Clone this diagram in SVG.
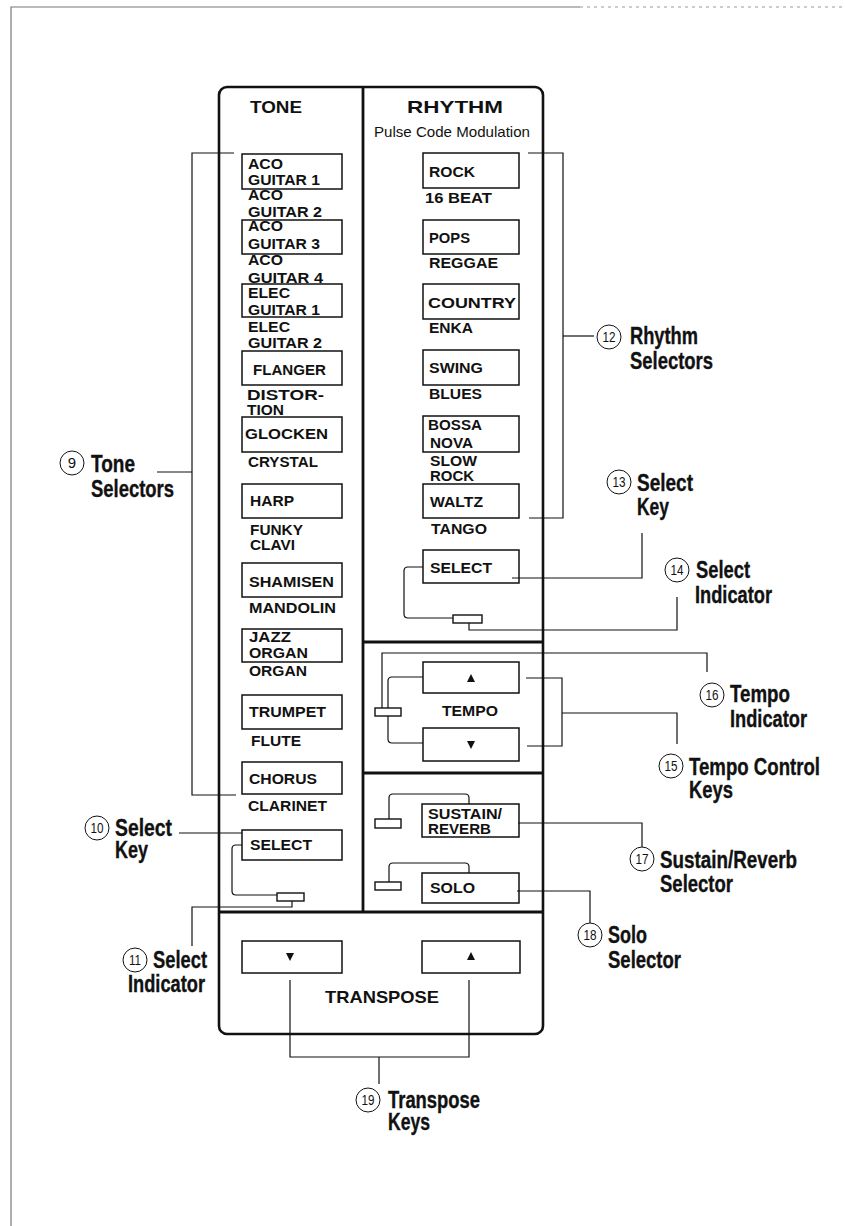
<svg xmlns="http://www.w3.org/2000/svg" width="845" height="1226" viewBox="0 0 845 1226">
<defs>
<style>
.bg{fill:#ffffff}
.page{stroke:#777;stroke-width:1.2;fill:none}
.pagedot{stroke:#999;stroke-width:1;fill:none;stroke-dasharray:3 4}
.panel{fill:none;stroke:#111;stroke-width:2.6}
.div{stroke:#111;stroke-width:2.8;fill:none}
.btn{fill:#fff;stroke:#111;stroke-width:1.5}
.ind{fill:#fff;stroke:#111;stroke-width:1.4}
.conn{fill:none;stroke:#111;stroke-width:1.2}
.t{font-family:"Liberation Sans",Arial,sans-serif;font-weight:bold;font-size:14.5px;fill:#111}
.hd{font-family:"Liberation Sans",Arial,sans-serif;font-weight:bold;font-size:17px;fill:#111}
.sub{font-family:"Liberation Sans",Arial,sans-serif;font-size:15px;fill:#111}
.lbl{font-family:"Liberation Sans",Arial,sans-serif;font-weight:bold;font-size:23px;fill:#111;stroke:#111;stroke-width:0.35}
.num{font-family:"Liberation Sans",Arial,sans-serif;font-size:15px;fill:#111;text-anchor:middle}
.circ{fill:#fff;stroke:#111;stroke-width:1}
.tri{fill:#111}
</style>
</defs>
<rect class="bg" x="0" y="0" width="845" height="1226"/>
<g id="page-border">
<path class="page" d="M11,1226 V7 H580"/>
<path class="pagedot" d="M580,7 H845"/>
</g>

<g id="panel">
<rect class="panel" x="219" y="87" width="324" height="947" rx="8" ry="8"/>
<path class="div" d="M363,87 V912"/>
<path class="div" d="M219,912 H543"/>
<path class="div" d="M363,642 H543"/>
<path class="div" d="M363,773 H543"/>
<text class="hd" x="250" y="113" textLength="52" lengthAdjust="spacingAndGlyphs">TONE</text>
<text class="hd" x="407" y="113" textLength="96" lengthAdjust="spacingAndGlyphs">RHYTHM</text>
<text class="sub" x="374" y="137" textLength="156" lengthAdjust="spacingAndGlyphs">Pulse Code Modulation</text>
<text class="t" x="442" y="716" textLength="56" lengthAdjust="spacingAndGlyphs">TEMPO</text>
<text class="hd" x="325" y="1003" textLength="114" lengthAdjust="spacingAndGlyphs">TRANSPOSE</text>
</g>

<g id="tone-aco1">
<rect class="btn" x="242" y="154" width="100" height="35"/>
<text class="t" x="248" y="169" textLength="35" lengthAdjust="spacingAndGlyphs">ACO</text>
<text class="t" x="248" y="185" textLength="72" lengthAdjust="spacingAndGlyphs">GUITAR 1</text>
<text class="t" x="248" y="200" textLength="35" lengthAdjust="spacingAndGlyphs">ACO</text>
<text class="t" x="248" y="217" textLength="74" lengthAdjust="spacingAndGlyphs">GUITAR 2</text>
</g>
<g id="tone-aco3">
<rect class="btn" x="242" y="220" width="100" height="34"/>
<text class="t" x="248" y="231" textLength="35" lengthAdjust="spacingAndGlyphs">ACO</text>
<text class="t" x="248" y="249" textLength="72" lengthAdjust="spacingAndGlyphs">GUITAR 3</text>
<text class="t" x="248" y="265" textLength="35" lengthAdjust="spacingAndGlyphs">ACO</text>
<text class="t" x="248" y="283" textLength="75" lengthAdjust="spacingAndGlyphs">GUITAR 4</text>
</g>
<g id="tone-elec">
<rect class="btn" x="242" y="284" width="100" height="33"/>
<text class="t" x="248" y="298" textLength="42" lengthAdjust="spacingAndGlyphs">ELEC</text>
<text class="t" x="248" y="315" textLength="72" lengthAdjust="spacingAndGlyphs">GUITAR 1</text>
<text class="t" x="248" y="332" textLength="42" lengthAdjust="spacingAndGlyphs">ELEC</text>
<text class="t" x="248" y="348" textLength="74" lengthAdjust="spacingAndGlyphs">GUITAR 2</text>
</g>
<g id="tone-flanger">
<rect class="btn" x="242" y="351" width="100" height="34"/>
<text class="t" x="253" y="375" textLength="73" lengthAdjust="spacingAndGlyphs">FLANGER</text>
<text class="t" x="247" y="400" textLength="77" lengthAdjust="spacingAndGlyphs">DISTOR-</text>
<text class="t" x="247" y="415" textLength="37" lengthAdjust="spacingAndGlyphs">TION</text>
</g>
<g id="tone-glocken">
<rect class="btn" x="242" y="417" width="100" height="35"/>
<text class="t" x="245" y="439" textLength="83" lengthAdjust="spacingAndGlyphs">GLOCKEN</text>
<text class="t" x="248" y="467" textLength="70" lengthAdjust="spacingAndGlyphs">CRYSTAL</text>
</g>
<g id="tone-harp">
<rect class="btn" x="242" y="484" width="100" height="34"/>
<text class="t" x="250" y="506" textLength="44" lengthAdjust="spacingAndGlyphs">HARP</text>
<text class="t" x="250" y="535" textLength="53" lengthAdjust="spacingAndGlyphs">FUNKY</text>
<text class="t" x="250" y="550" textLength="45" lengthAdjust="spacingAndGlyphs">CLAVI</text>
</g>
<g id="tone-shamisen">
<rect class="btn" x="242" y="563" width="100" height="34"/>
<text class="t" x="249" y="587" textLength="85" lengthAdjust="spacingAndGlyphs">SHAMISEN</text>
<text class="t" x="249" y="613" textLength="87" lengthAdjust="spacingAndGlyphs">MANDOLIN</text>
</g>
<g id="tone-jazz-organ">
<rect class="btn" x="242" y="629" width="100" height="33"/>
<text class="t" x="249" y="642" textLength="42" lengthAdjust="spacingAndGlyphs">JAZZ</text>
<text class="t" x="249" y="658" textLength="59" lengthAdjust="spacingAndGlyphs">ORGAN</text>
<text class="t" x="249" y="676" textLength="58" lengthAdjust="spacingAndGlyphs">ORGAN</text>
</g>
<g id="tone-trumpet">
<rect class="btn" x="242" y="695" width="100" height="34"/>
<text class="t" x="249" y="717" textLength="77" lengthAdjust="spacingAndGlyphs">TRUMPET</text>
<text class="t" x="251" y="746" textLength="50" lengthAdjust="spacingAndGlyphs">FLUTE</text>
</g>
<g id="tone-chorus">
<rect class="btn" x="242" y="762" width="100" height="32"/>
<text class="t" x="249" y="784" textLength="68" lengthAdjust="spacingAndGlyphs">CHORUS</text>
<text class="t" x="248" y="811" textLength="79" lengthAdjust="spacingAndGlyphs">CLARINET</text>
</g>
<g id="tone-select">
<rect class="btn" x="242" y="830" width="100" height="30"/>
<text class="t" x="250" y="850" textLength="62" lengthAdjust="spacingAndGlyphs">SELECT</text>
</g>
<g id="tone-indicator">
<rect class="ind" x="277" y="893" width="27" height="8"/>
</g>

<g id="rhythm-rock">
<rect class="btn" x="423" y="153" width="96" height="35"/>
<text class="t" x="429" y="177" textLength="46" lengthAdjust="spacingAndGlyphs">ROCK</text>
<text class="t" x="425" y="203" textLength="67" lengthAdjust="spacingAndGlyphs">16  BEAT</text>
</g>
<g id="rhythm-pops">
<rect class="btn" x="423" y="220" width="96" height="34"/>
<text class="t" x="429" y="243" textLength="41" lengthAdjust="spacingAndGlyphs">POPS</text>
<text class="t" x="429" y="268" textLength="69" lengthAdjust="spacingAndGlyphs">REGGAE</text>
</g>
<g id="rhythm-country">
<rect class="btn" x="423" y="284" width="96" height="35"/>
<text class="t" x="428" y="308" textLength="88" lengthAdjust="spacingAndGlyphs">COUNTRY</text>
<text class="t" x="429" y="333" textLength="44" lengthAdjust="spacingAndGlyphs">ENKA</text>
</g>
<g id="rhythm-swing">
<rect class="btn" x="423" y="350" width="96" height="35"/>
<text class="t" x="429" y="373" textLength="54" lengthAdjust="spacingAndGlyphs">SWING</text>
<text class="t" x="429" y="399" textLength="53" lengthAdjust="spacingAndGlyphs">BLUES</text>
</g>
<g id="rhythm-bossa">
<rect class="btn" x="423" y="416" width="96" height="36"/>
<text class="t" x="428" y="430" textLength="54" lengthAdjust="spacingAndGlyphs">BOSSA</text>
<text class="t" x="430" y="448" textLength="43" lengthAdjust="spacingAndGlyphs">NOVA</text>
<text class="t" x="430" y="466" textLength="47" lengthAdjust="spacingAndGlyphs">SLOW</text>
<text class="t" x="430" y="481" textLength="44" lengthAdjust="spacingAndGlyphs">ROCK</text>
</g>
<g id="rhythm-waltz">
<rect class="btn" x="423" y="484" width="96" height="34"/>
<text class="t" x="430" y="507" textLength="53" lengthAdjust="spacingAndGlyphs">WALTZ</text>
<text class="t" x="431" y="534" textLength="56" lengthAdjust="spacingAndGlyphs">TANGO</text>
</g>
<g id="rhythm-select">
<rect class="btn" x="423" y="550" width="96" height="33"/>
<text class="t" x="430" y="573" textLength="62" lengthAdjust="spacingAndGlyphs">SELECT</text>
</g>
<g id="rhythm-indicator">
<rect class="ind" x="453" y="615" width="29" height="8"/>
</g>

<g id="tempo-up">
<rect class="btn" x="423" y="662" width="96" height="31"/>
<path class="tri" d="M471,674 L475,682 L467,682 Z"/>
</g>
<g id="tempo-down">
<rect class="btn" x="423" y="728" width="96" height="33"/>
<path class="tri" d="M467,741 L475,741 L471,749 Z"/>
</g>
<g id="tempo-indicator">
<rect class="ind" x="375" y="708" width="26" height="8"/>
</g>

<g id="sustain-reverb">
<rect class="btn" x="422" y="804" width="97" height="33"/>
<text class="t" x="428" y="819" textLength="74" lengthAdjust="spacingAndGlyphs">SUSTAIN/</text>
<text class="t" x="428" y="834" textLength="63" lengthAdjust="spacingAndGlyphs">REVERB</text>
</g>
<g id="sustain-indicator">
<rect class="ind" x="375" y="819" width="26" height="9"/>
</g>
<g id="solo">
<rect class="btn" x="422" y="873" width="97" height="30"/>
<text class="t" x="430" y="893" textLength="45" lengthAdjust="spacingAndGlyphs">SOLO</text>
</g>
<g id="solo-indicator">
<rect class="ind" x="375" y="882" width="26" height="8"/>
</g>

<g id="transpose-down">
<rect class="btn" x="242" y="941" width="100" height="32"/>
<path class="tri" d="M286,953 L294,953 L290,961 Z"/>
</g>
<g id="transpose-up">
<rect class="btn" x="422" y="941" width="98" height="32"/>
<path class="tri" d="M471,952 L475,960 L467,960 Z"/>
</g>

<g id="connectors">
<path class="conn" d="M234,153 H192 V795 H236"/>
<path class="conn" d="M157,472 H192"/>
<path class="conn" d="M179,833 H242"/>
<path class="conn" d="M242,845 H236 Q232,845 232,849 V891 Q232,895 236,895 H277"/>
<path class="conn" d="M292,901 V907 H192 V946"/>
<path class="conn" d="M528,153 H563 V518 H529"/>
<path class="conn" d="M563,336 H594"/>
<path class="conn" d="M512,578 H642 V533"/>
<path class="conn" d="M423,567 H408 Q404,567 404,571 V614 Q404,618 408,618 H453"/>
<path class="conn" d="M469,623 V630 H677 V597"/>
<path class="conn" d="M423,677 H392 Q388,677 388,681 V708"/>
<path class="conn" d="M388,716 V739 Q388,743 392,743 H423"/>
<path class="conn" d="M382,708 V653 H707 V672"/>
<path class="conn" d="M526,678 H562 V746 H527"/>
<path class="conn" d="M562,713 H677 V744"/>
<path class="conn" d="M389,819 V798 Q389,794 393,794 H465 Q469,794 469,798 V804"/>
<path class="conn" d="M518,823 H642 V847"/>
<path class="conn" d="M389,882 V867 Q389,863 393,863 H465 Q469,863 469,867 V873"/>
<path class="conn" d="M517,891 H590 V923"/>
<path class="conn" d="M290,980 V1057 H469 V980"/>
<path class="conn" d="M379,1057 V1084"/>
</g>

<g id="label-9">
<circle class="circ" cx="72" cy="463" r="12"/>
<text class="num" x="72" y="468">9</text>
<text class="lbl" x="91" y="472" textLength="44" lengthAdjust="spacingAndGlyphs">Tone</text>
<text class="lbl" x="91" y="497" textLength="83" lengthAdjust="spacingAndGlyphs">Selectors</text>
</g>
<g id="label-10">
<circle class="circ" cx="97" cy="828" r="12"/>
<text class="num" x="97" y="833" textLength="13" lengthAdjust="spacingAndGlyphs">10</text>
<text class="lbl" x="115" y="836" textLength="57" lengthAdjust="spacingAndGlyphs">Select</text>
<text class="lbl" x="115" y="858" textLength="33" lengthAdjust="spacingAndGlyphs">Key</text>
</g>
<g id="label-11">
<circle class="circ" cx="135" cy="960" r="12"/>
<text class="num" x="135" y="965" textLength="12" lengthAdjust="spacingAndGlyphs">11</text>
<text class="lbl" x="153" y="968" textLength="54" lengthAdjust="spacingAndGlyphs">Select</text>
<text class="lbl" x="128" y="992" textLength="77" lengthAdjust="spacingAndGlyphs">Indicator</text>
</g>
<g id="label-12">
<circle class="circ" cx="609" cy="337" r="12"/>
<text class="num" x="609" y="342" textLength="13" lengthAdjust="spacingAndGlyphs">12</text>
<text class="lbl" x="630" y="344" textLength="68" lengthAdjust="spacingAndGlyphs">Rhythm</text>
<text class="lbl" x="630" y="369" textLength="83" lengthAdjust="spacingAndGlyphs">Selectors</text>
</g>
<g id="label-13">
<circle class="circ" cx="619" cy="482" r="12"/>
<text class="num" x="619" y="487" textLength="13" lengthAdjust="spacingAndGlyphs">13</text>
<text class="lbl" x="637" y="491" textLength="56" lengthAdjust="spacingAndGlyphs">Select</text>
<text class="lbl" x="637" y="515" textLength="32" lengthAdjust="spacingAndGlyphs">Key</text>
</g>
<g id="label-14">
<circle class="circ" cx="677" cy="570" r="12"/>
<text class="num" x="677" y="575" textLength="13" lengthAdjust="spacingAndGlyphs">14</text>
<text class="lbl" x="696" y="578" textLength="54" lengthAdjust="spacingAndGlyphs">Select</text>
<text class="lbl" x="695" y="603" textLength="77" lengthAdjust="spacingAndGlyphs">Indicator</text>
</g>
<g id="label-16">
<circle class="circ" cx="712" cy="695" r="12"/>
<text class="num" x="712" y="700" textLength="13" lengthAdjust="spacingAndGlyphs">16</text>
<text class="lbl" x="730" y="702" textLength="60" lengthAdjust="spacingAndGlyphs">Tempo</text>
<text class="lbl" x="730" y="727" textLength="77" lengthAdjust="spacingAndGlyphs">Indicator</text>
</g>
<g id="label-15">
<circle class="circ" cx="671" cy="766" r="12"/>
<text class="num" x="671" y="771" textLength="13" lengthAdjust="spacingAndGlyphs">15</text>
<text class="lbl" x="689" y="775" textLength="131" lengthAdjust="spacingAndGlyphs">Tempo Control</text>
<text class="lbl" x="689" y="798" textLength="44" lengthAdjust="spacingAndGlyphs">Keys</text>
</g>
<g id="label-17">
<circle class="circ" cx="642" cy="859" r="12"/>
<text class="num" x="642" y="864" textLength="13" lengthAdjust="spacingAndGlyphs">17</text>
<text class="lbl" x="660" y="868" textLength="137" lengthAdjust="spacingAndGlyphs">Sustain/Reverb</text>
<text class="lbl" x="660" y="892" textLength="73" lengthAdjust="spacingAndGlyphs">Selector</text>
</g>
<g id="label-18">
<circle class="circ" cx="590" cy="935" r="12"/>
<text class="num" x="590" y="940" textLength="13" lengthAdjust="spacingAndGlyphs">18</text>
<text class="lbl" x="608" y="943" textLength="39" lengthAdjust="spacingAndGlyphs">Solo</text>
<text class="lbl" x="608" y="968" textLength="73" lengthAdjust="spacingAndGlyphs">Selector</text>
</g>
<g id="label-19">
<circle class="circ" cx="368" cy="1100" r="12"/>
<text class="num" x="368" y="1105" textLength="13" lengthAdjust="spacingAndGlyphs">19</text>
<text class="lbl" x="388" y="1108" textLength="92" lengthAdjust="spacingAndGlyphs">Transpose</text>
<text class="lbl" x="388" y="1130" textLength="42" lengthAdjust="spacingAndGlyphs">Keys</text>
</g>
</svg>
